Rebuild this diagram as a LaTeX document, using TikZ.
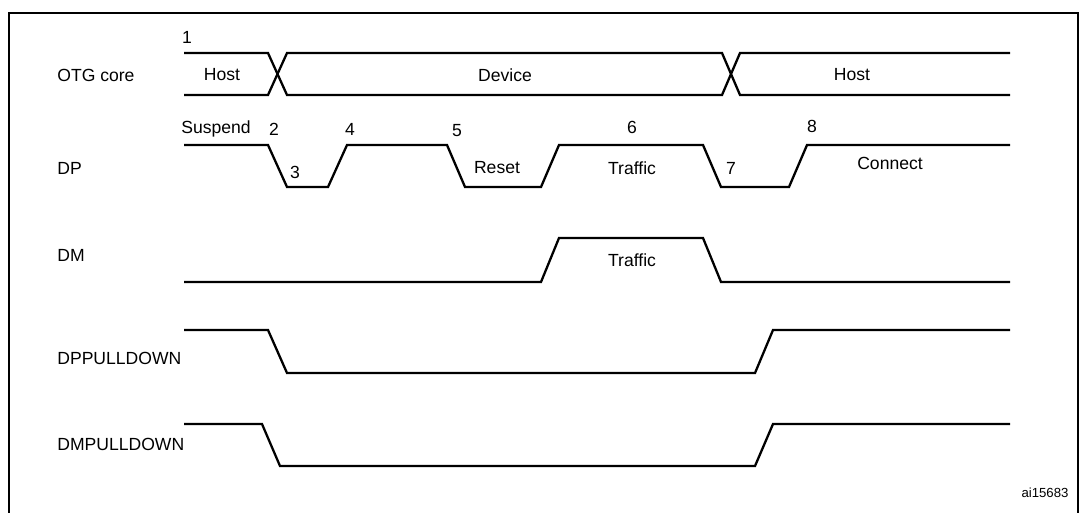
\documentclass[tikz,border=0pt]{standalone}
\usepackage{fontspec}
\setmainfont{Liberation Sans}
\begin{document}
\begin{tikzpicture}[x=0.02cm,y=-0.02cm,
        wave/.style={line width=1.3pt},
        lbl/.style={font=\fontsize{10}{12}\selectfont,inner sep=0pt},
        sig/.style={lbl,anchor=west}]
        \useasboundingbox (0,0) rectangle (1087,513);
        \draw [line width=1pt] (9,513) -- (9,13) -- (1078,13) -- (1078,513);

        % OTG core
        \draw [wave] (184,53) -- (268,53) -- (287,95) -- (722,95) -- (740,53) -- (1010,53);
        \draw [wave] (184,95) -- (268,95) -- (287,53) -- (722,53) -- (740,95) -- (1010,95);

        % DP
        \draw [wave] (184,145) -- (268,145) -- (287,187) -- (328,187) -- (347,145) -- (447,145)
                -- (465,187) -- (541,187) -- (559,145) -- (703,145) -- (721,187) -- (789,187)
                -- (807,145) -- (1010,145);

        % DM
        \draw [wave] (184,282) -- (541,282) -- (559,238) -- (703,238) -- (721,282) -- (1010,282);

        % pull downs
        \draw [wave] (184,330) -- (268,330) -- (287,373) -- (755,373) -- (773,330) -- (1010,330);
        \draw [wave] (184,424) -- (262,424) -- (280,466) -- (755,466) -- (773,424) -- (1010,424);

        \node [sig] (otg) at (57,75) {OTG core};
        \node [sig] (dp) at (57,168) {DP};
        \node [sig] (dm) at (57,255) {DM};
        \node [sig] (dpp) at (57,358) {DPPULLDOWN};
        \node [sig] (dmp) at (57,444) {DMPULLDOWN};

        \node [lbl] (n1) at (187,37) {1};
        \node [lbl] (host1) at (222,75) {Host};
        \node [lbl] (dev) at (505,75) {Device};
        \node [lbl] (host2) at (852,75) {Host};

        \node [lbl] (susp) at (216,129) {Suspend};
        \node [lbl] (n2) at (274,129) {2};
        \node [lbl] (n3) at (295,172) {3};
        \node [lbl] (n4) at (350,129) {4};
        \node [lbl] (n5) at (457,131) {5};
        \node [lbl] (reset) at (497,168) {Reset};
        \node [lbl] (n6) at (632,127) {6};
        \node [lbl] (traf1) at (632,168) {Traffic};
        \node [lbl] (n7) at (731,168) {7};
        \node [lbl] (n8) at (812,126) {8};
        \node [lbl] (conn) at (890,163) {Connect};
        \node [lbl] (traf2) at (632,260) {Traffic};

        \node [lbl,font=\fontsize{7.5}{9}\selectfont] (ref) at (1045,493) {ai15683};
\end{tikzpicture}
\end{document}
